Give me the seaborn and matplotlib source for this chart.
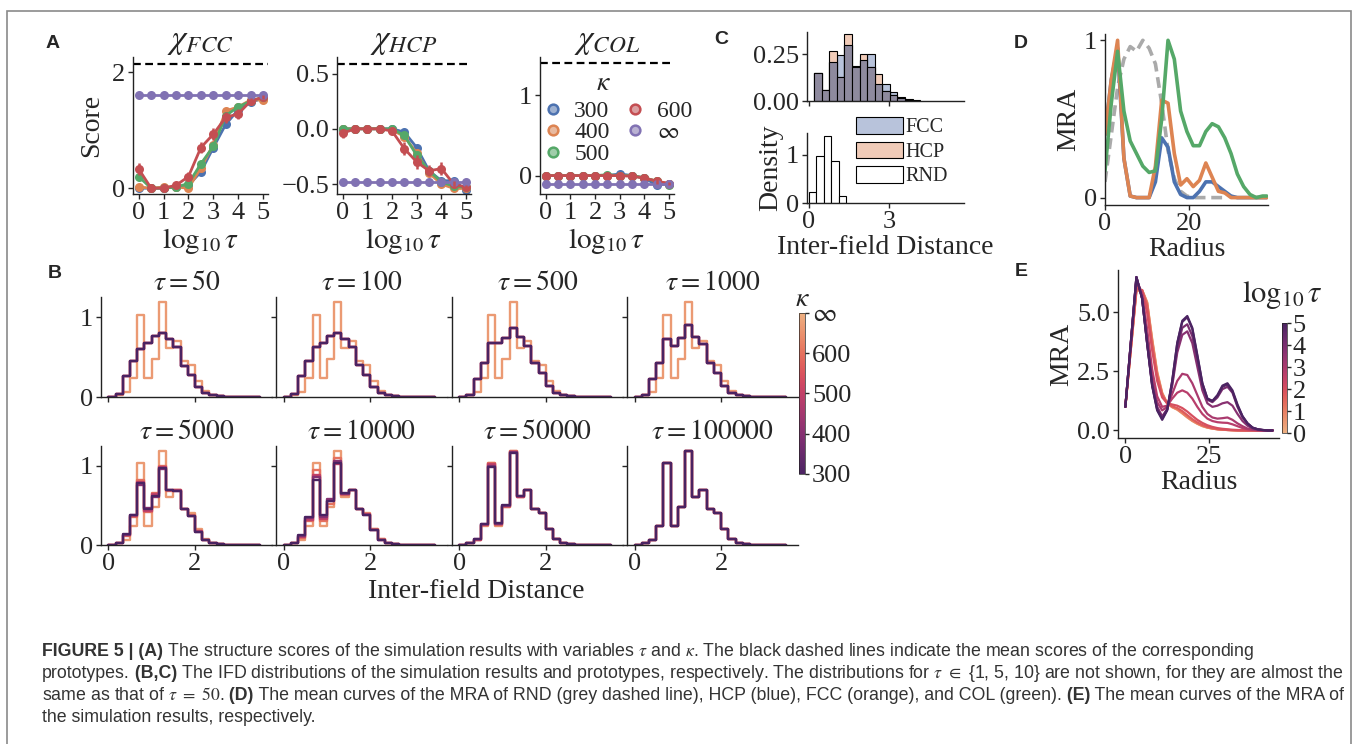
import numpy as np
import pandas as pd
import matplotlib
matplotlib.use("Agg")
import matplotlib.pyplot as plt
from matplotlib.lines import Line2D
from matplotlib.patches import Patch, Rectangle
from matplotlib.colors import Normalize
from matplotlib.cm import ScalarMappable
import seaborn as sns

W, H = 1357, 744

# ---------------- panel A: structure scores vs log10(tau) ----------------
log_tau = [0, 0.5, 1, 1.5, 2, 2.5, 3, 3.5, 4, 4.5, 5]
kappa_names = ["300", "400", "500", "600", r"$\infty$"]

fcc_k300 = [0.0, 0.0, 0.0, 0.02, 0.05, 0.28, 0.70, 1.10, 1.35, 1.48, 1.55]
fcc_k400 = [0.02, 0.0, 0.02, 0.02, 0.0, 0.35, 0.75, 1.33, 1.40, 1.52, 1.52]
fcc_k500 = [0.20, 0.0, 0.0, 0.02, 0.08, 0.42, 0.72, 1.25, 1.40, 1.50, 1.57]
fcc_k600 = [0.33, 0.0, 0.0, 0.05, 0.20, 0.70, 0.93, 1.22, 1.28, 1.50, 1.57]
fcc_kinf = [1.60] * 11
fcc_err600 = [0.10, 0.03, 0.03, 0.03, 0.08, 0.10, 0.10, 0.09, 0.09, 0.05, 0.03]
fcc_proto = 2.14

hcp_k300 = [0.0, 0.0, 0.0, 0.0, 0.0, -0.03, -0.17, -0.38, -0.47, -0.47, -0.55]
hcp_k400 = [0.0, 0.0, 0.0, 0.0, -0.01, -0.07, -0.22, -0.40, -0.50, -0.54, -0.54]
hcp_k500 = [0.0, 0.0, 0.0, 0.0, 0.0, -0.06, -0.24, -0.38, -0.48, -0.52, -0.53]
hcp_k600 = [-0.04, 0.0, 0.0, 0.0, -0.02, -0.18, -0.30, -0.38, -0.36, -0.50, -0.53]
hcp_kinf = [-0.48] * 11
hcp_err600 = [0.04, 0.01, 0.01, 0.01, 0.02, 0.06, 0.06, 0.05, 0.06, 0.03, 0.02]
hcp_proto = 0.59

col_k300 = [0.0, 0.0, 0.0, 0.0, 0.0, 0.0, 0.02, 0.0, -0.03, -0.12, -0.10]
col_k400 = [0.0, 0.0, 0.0, 0.0, 0.0, 0.0, 0.0, 0.0, -0.03, -0.07, -0.10]
col_k500 = [0.0, 0.0, 0.0, 0.0, 0.0, 0.01, 0.0, 0.0, -0.03, -0.07, -0.12]
col_k600 = [0.0, 0.0, 0.0, 0.0, 0.0, 0.0, 0.0, -0.01, -0.03, -0.07, -0.10]
col_kinf = [-0.10] * 11
col_err600 = [0.02, 0.01, 0.01, 0.01, 0.01, 0.01, 0.02, 0.02, 0.02, 0.03, 0.02]
col_proto = 1.40

# ---------------- panel B: IFD step histograms ----------------
ifd_edges = np.linspace(0, 3.5, 22).tolist()
ifd_inf = [0, 0.02, 0.06, 0.24, 1.03, 0.24, 0.48, 1.19, 0.61, 0.70, 0.45, 0.40, 0.20, 0.07, 0.03, 0.01]
ifd_t50 = [0, 0.04, 0.26, 0.45, 0.60, 0.68, 0.76, 0.80, 0.72, 0.62, 0.39, 0.28, 0.13, 0.05, 0.02, 0.01]
ifd_t100 = [0, 0.04, 0.26, 0.45, 0.62, 0.67, 0.76, 0.80, 0.73, 0.62, 0.40, 0.28, 0.13, 0.05, 0.02, 0.01]
ifd_t500 = [0, 0.03, 0.22, 0.42, 0.68, 0.68, 0.74, 0.86, 0.75, 0.64, 0.42, 0.30, 0.14, 0.05, 0.02, 0.01]
ifd_t1000 = [0, 0.03, 0.22, 0.42, 0.72, 0.64, 0.74, 0.90, 0.75, 0.66, 0.42, 0.30, 0.14, 0.05, 0.02, 0.01]
ifd_t5000_k300 = [0, 0.02, 0.14, 0.38, 0.78, 0.45, 0.62, 0.97, 0.70, 0.68, 0.46, 0.36, 0.17, 0.06, 0.02, 0.01]
ifd_t5000_k400 = [0, 0.02, 0.13, 0.38, 0.76, 0.47, 0.60, 0.96, 0.70, 0.68, 0.46, 0.37, 0.17, 0.06, 0.02, 0.01]
ifd_t5000_k500 = [0, 0.02, 0.12, 0.36, 0.80, 0.43, 0.64, 0.99, 0.69, 0.69, 0.46, 0.37, 0.18, 0.06, 0.02, 0.01]
ifd_t5000_k600 = [0, 0.02, 0.11, 0.35, 0.82, 0.42, 0.66, 1.00, 0.68, 0.69, 0.46, 0.38, 0.18, 0.06, 0.02, 0.01]
ifd_t10000_k300 = [0, 0.02, 0.12, 0.35, 0.82, 0.38, 0.56, 1.04, 0.66, 0.70, 0.46, 0.38, 0.19, 0.06, 0.02, 0.01]
ifd_t10000_k400 = [0, 0.02, 0.11, 0.34, 0.86, 0.35, 0.58, 1.06, 0.65, 0.70, 0.46, 0.38, 0.19, 0.06, 0.02, 0.01]
ifd_t10000_k500 = [0, 0.02, 0.10, 0.32, 0.88, 0.33, 0.55, 1.02, 0.64, 0.70, 0.45, 0.39, 0.19, 0.06, 0.02, 0.01]
ifd_t10000_k600 = [0, 0.02, 0.09, 0.30, 0.95, 0.30, 0.52, 1.10, 0.63, 0.70, 0.45, 0.39, 0.20, 0.07, 0.02, 0.01]
ifd_t50000_k300 = [0, 0.02, 0.07, 0.27, 0.98, 0.28, 0.50, 1.16, 0.62, 0.70, 0.45, 0.40, 0.20, 0.07, 0.03, 0.01]
ifd_t50000_k400 = [0, 0.02, 0.07, 0.26, 1.00, 0.27, 0.49, 1.17, 0.62, 0.70, 0.45, 0.40, 0.20, 0.07, 0.03, 0.01]
ifd_t50000_k500 = [0, 0.02, 0.06, 0.25, 1.02, 0.26, 0.49, 1.18, 0.61, 0.70, 0.45, 0.40, 0.20, 0.07, 0.03, 0.01]
ifd_t50000_k600 = [0, 0.02, 0.06, 0.25, 1.03, 0.25, 0.48, 1.19, 0.61, 0.70, 0.45, 0.40, 0.20, 0.07, 0.03, 0.01]
tau_values = [50, 100, 500, 1000, 5000, 10000, 50000, 100000]
kappa_values = [300, 400, 500, 600]

# ---------------- panel C: prototype IFDs ----------------
proto_edges = np.linspace(0.19, 4.15, 15).tolist()
fcc_ifd = [0.15, 0.06, 0.21, 0.245, 0.30, 0.18, 0.22, 0.25, 0.09, 0.09, 0.05, 0.02, 0.01, 0.003]
hcp_ifd = [0.15, 0.06, 0.27, 0.13, 0.36, 0.19, 0.25, 0.18, 0.145, 0.055, 0.03, 0.015, 0.005, 0.0]
rnd_edges = np.linspace(0.0, 1.4, 6).tolist()
rnd_ifd = [0.22, 0.97, 1.38, 0.87, 0.14]

# ---------------- panel D: prototype MRA ----------------
radius_d = [0, 1.5, 3, 4.5, 6, 7.5, 9, 10.5, 12, 13.5, 15, 16.5, 18, 19.5, 21, 22.5,
            24, 25.5, 27, 28.5, 30, 31.5, 33, 34.5, 36, 37.5, 38.5]
mra_rnd = [0.10, 0.40, 0.70, 0.88, 0.96, 0.93, 1.00, 0.95, 0.85, 0.60, 0.30, 0.12, 0.04,
           0.01, 0.0, 0.0, 0.0, 0.0, 0.0, 0.0]
mra_hcp = [0.40, 0.75, 0.95, 0.25, 0.01, 0.0, 0.0, 0.0, 0.10, 0.38, 0.32, 0.10, 0.02, 0.0,
           0.0, 0.04, 0.10, 0.10, 0.07, 0.04, 0.01, 0.0, 0.0, 0.0, 0.0, 0.0, 0.0]
mra_fcc = [0.40, 0.75, 1.00, 0.25, 0.01, 0.0, 0.0, 0.0, 0.20, 0.62, 0.60, 0.28, 0.08, 0.12,
           0.07, 0.11, 0.22, 0.13, 0.04, 0.03, 0.0, 0.0, 0.0, 0.0, 0.0, 0.0, 0.0]
mra_col = [0.17, 0.60, 0.93, 0.55, 0.36, 0.28, 0.20, 0.16, 0.17, 0.50, 1.00, 0.88, 0.55,
           0.42, 0.33, 0.33, 0.42, 0.47, 0.45, 0.38, 0.28, 0.15, 0.07, 0.02, 0.0, 0.01, 0.01]

# ---------------- panel E: simulated MRA ----------------
radius_e = [0, 3.3, 5, 6.5, 8, 9.5, 11, 12.5, 14, 15.5, 17, 18.5, 20, 21.5, 23, 24.5,
            26, 27.5, 29, 30.5, 32, 33.5, 35, 36.5, 38, 39.5, 41, 42.5, 44]
mra_e_log0 = [1.0, 5.9, 5.95, 5.45, 3.9, 2.5, 1.6, 1.15, 0.98, 0.88, 0.72, 0.55, 0.40, 0.28, 0.18, 0.12, 0.08, 0.05, 0.03, 0.02, 0.01]
mra_e_log07 = [1.0, 5.9, 5.95, 5.42, 3.85, 2.45, 1.58, 1.15, 0.99, 0.89, 0.73, 0.56, 0.41, 0.29, 0.19, 0.12, 0.08, 0.05, 0.03, 0.02, 0.01]
mra_e_log1 = [1.0, 5.95, 5.95, 5.4, 3.8, 2.4, 1.55, 1.15, 1.0, 0.9, 0.75, 0.58, 0.42, 0.30, 0.20, 0.13, 0.08, 0.05, 0.03, 0.02, 0.01]
mra_e_log17 = [1.0, 6.0, 5.95, 5.3, 3.6, 2.3, 1.5, 1.15, 1.02, 0.95, 0.82, 0.65, 0.48, 0.34, 0.23, 0.15, 0.10, 0.06, 0.04, 0.02, 0.01]
mra_e_log2 = [1.0, 6.1, 5.9, 5.0, 3.4, 2.1, 1.4, 1.15, 1.10, 1.05, 0.95, 0.80, 0.62, 0.45, 0.32, 0.22, 0.15, 0.10, 0.07, 0.05, 0.03, 0.02, 0.01]
mra_e_log27 = [1.0, 6.4, 5.8, 4.3, 2.6, 1.45, 1.0, 1.05, 1.35, 1.6, 1.7, 1.6, 1.35, 1.0, 0.7, 0.5, 0.4, 0.35, 0.33, 0.32, 0.26, 0.18, 0.10, 0.05, 0.02, 0.01]
mra_e_log3 = [1.0, 6.4, 5.7, 4.0, 2.3, 1.2, 0.85, 1.0, 1.55, 2.1, 2.4, 2.35, 2.0, 1.5, 1.0, 0.7, 0.55, 0.5, 0.52, 0.55, 0.45, 0.30, 0.18, 0.08, 0.03, 0.01]
mra_e_log37 = [1.0, 6.5, 5.6, 3.75, 2.0, 1.0, 0.6, 0.9, 1.9, 3.3, 4.05, 4.2, 3.7, 2.7, 1.7, 1.15, 1.0, 1.05, 1.15, 1.2, 1.05, 0.70, 0.40, 0.20, 0.08, 0.03, 0.01]
mra_e_log4 = [1.0, 6.5, 5.6, 3.7, 1.95, 0.95, 0.55, 0.9, 2.0, 3.5, 4.35, 4.5, 4.0, 2.95, 1.9, 1.3, 1.2, 1.4, 1.75, 1.85, 1.6, 1.0, 0.55, 0.28, 0.11, 0.05, 0.02]
mra_e_log47 = [1.0, 6.5, 5.6, 3.7, 1.9, 0.88, 0.5, 0.88, 2.1, 3.7, 4.6, 4.8, 4.3, 3.15, 2.0, 1.35, 1.25, 1.45, 1.85, 1.95, 1.65, 1.05, 0.6, 0.3, 0.12, 0.05, 0.02]
mra_e_log5 = [1.0, 6.5, 5.6, 3.7, 1.9, 0.85, 0.45, 0.85, 2.1, 3.7, 4.65, 4.85, 4.35, 3.2, 2.0, 1.35, 1.25, 1.5, 1.9, 2.0, 1.7, 1.1, 0.6, 0.3, 0.12, 0.05, 0.02]
log_tau_e = [0, 0.7, 1, 1.7, 2, 2.7, 3, 3.7, 4, 4.7, 5]


def pad(vals, n):
    return list(vals) + [0.0] * (n - len(vals))


def centers_of(edges):
    return [(a + b) / 2 for a, b in zip(edges[:-1], edges[1:])]


# ---------------- style ----------------
sns.set_theme(style="ticks")
plt.rcParams["font.family"] = ["Liberation Serif", "DejaVu Serif"]
plt.rcParams["mathtext.fontset"] = "stix"
plt.rcParams.update({
    "axes.linewidth": 1.0, "axes.edgecolor": "#222222",
    "xtick.major.size": 3.5, "ytick.major.size": 3.5,
    "xtick.major.width": 1.0, "ytick.major.width": 1.0,
    "xtick.labelsize": 19, "ytick.labelsize": 19,
    "axes.labelsize": 20, "axes.titlesize": 20,
    "xtick.major.pad": 2, "ytick.major.pad": 2,
    "axes.labelpad": 2,
})

fig = plt.figure(figsize=(W / 100, H / 100), dpi=100)


def px_axes(x0, y0, x1, y1):
    return fig.add_axes([x0 / W, 1 - y1 / H, (x1 - x0) / W, (y1 - y0) / H])


deep = sns.color_palette("deep")
kappa_colors = [deep[0], deep[1], deep[2], deep[3], deep[4]]

# ---------------- A ----------------
a_specs = [
    ((133, 57, 268, 194), [fcc_k300, fcc_k400, fcc_k500, fcc_k600, fcc_kinf], fcc_err600, fcc_proto,
     r"$\chi_{FCC}$", (-0.1, 2.26), [0, 2]),
    ((337, 57, 471, 194), [hcp_k300, hcp_k400, hcp_k500, hcp_k600, hcp_kinf], hcp_err600, hcp_proto,
     r"$\chi_{HCP}$", (-0.59, 0.65), [-0.5, 0.0, 0.5]),
    ((540, 57, 674, 194), [col_k300, col_k400, col_k500, col_k600, col_kinf], col_err600, col_proto,
     r"$\chi_{COL}$", (-0.23, 1.48), [0, 1]),
]
a_axes = []
for box, series, err600, proto, title, ylim, yt in a_specs:
    ax = px_axes(*box)
    ax.axhline(proto, color="black", lw=1.6, ls=(0, (3.5, 2)))
    for vals, c in zip(series, kappa_colors):
        sns.lineplot(x=log_tau, y=vals, color=c, lw=2.0, marker="o", markersize=6.5,
                     markeredgewidth=0, ax=ax)
    ax.errorbar(log_tau, series[3], yerr=err600, fmt="none", ecolor=kappa_colors[3], elinewidth=1.8)
    ax.set_xlim(-0.23, 5.2)
    ax.set_ylim(*ylim)
    ax.set_xticks([0, 1, 2, 3, 4, 5])
    ax.set_yticks(yt)
    ax.set_title(title, pad=3, fontsize=24)
    ax.set_xlabel(r"$\log_{10}\tau$", fontsize=21)
    sns.despine(ax=ax)
    a_axes.append(ax)
a_axes[0].set_ylabel("Score", labelpad=6)

leg_handles = [Line2D([], [], ls="", marker="o", markersize=7, markerfacecolor=sns.light_palette(c, 3)[1],
                      markeredgecolor=c, markeredgewidth=1.8) for c in kappa_colors]
a_axes[2].legend(leg_handles, kappa_names, ncol=2, loc="upper left",
                 bbox_to_anchor=(-0.08, 0.77), frameon=False, fontsize=17,
                 handletextpad=0.4, columnspacing=0.6, labelspacing=0.0, borderpad=0,
                 handlelength=1.0)
fig.text(603 / W, 1 - 83 / H, r"$\kappa$", ha="center", va="center", fontsize=20)

# ---------------- B ----------------
flare_r = sns.color_palette("flare_r", as_cmap=True)
b_norm = Normalize(300, 700)
inf_color = flare_r(b_norm(665))
ifd_by_tau = {
    50: [ifd_t50] * 4,
    100: [ifd_t100] * 4,
    500: [ifd_t500] * 4,
    1000: [ifd_t1000] * 4,
    5000: [ifd_t5000_k300, ifd_t5000_k400, ifd_t5000_k500, ifd_t5000_k600],
    10000: [ifd_t10000_k300, ifd_t10000_k400, ifd_t10000_k500, ifd_t10000_k600],
    50000: [ifd_t50000_k300, ifd_t50000_k400, ifd_t50000_k500, ifd_t50000_k600],
    100000: [ifd_inf] * 4,
}
n_bins = len(ifd_edges) - 1
centers_b = centers_of(ifd_edges)
col_x0 = [101, 276.4, 451.8, 627.2]
row_y = [(297, 397), (446, 545)]
for i, tau in enumerate(tau_values):
    r, c = divmod(i, 4)
    ax = px_axes(col_x0[c], row_y[r][0], col_x0[c] + 171, row_y[r][1])
    sns.histplot(x=centers_b, weights=pad(ifd_inf, n_bins), bins=ifd_edges, element="step",
                 fill=False, color=inf_color, lw=1.7, ax=ax)
    for k, vals in reversed(list(zip(kappa_values, ifd_by_tau[tau]))):
        sns.histplot(x=centers_b, weights=pad(vals, n_bins), bins=ifd_edges, element="step",
                     fill=False, color=flare_r(b_norm(k)), lw=1.7, ax=ax)
    ax.set_xlim(-0.17, 3.78)
    ax.set_ylim(0, 1.25)
    ax.set_xticks([0, 2])
    ax.set_yticks([0, 1])
    ax.set_ylabel("")
    ax.set_title(r"$\tau = %d$" % tau, pad=5)
    if r == 0:
        ax.set_xticklabels([])
    if c > 0:
        ax.set_yticklabels([])
    sns.despine(ax=ax)
fig.text(476 / W, 1 - 592 / H, "Inter-field Distance", ha="center", va="center", fontsize=20)

cax_b = px_axes(799, 313, 805, 474)
cb_b = fig.colorbar(ScalarMappable(norm=b_norm, cmap=flare_r), cax=cax_b)
cb_b.set_ticks([300, 400, 500, 600, 700])
cb_b.set_ticklabels(["300", "400", "500", "600", r"$\infty$"])
cb_b.outline.set_linewidth(0.5)
cax_b.tick_params(labelsize=19, length=3)
fig.text(802 / W, 1 - 300 / H, r"$\kappa$", ha="center", va="center", fontsize=20)

# ---------------- C ----------------
centers_p = centers_of(proto_edges)
overlap_ifd = np.minimum(fcc_ifd, hcp_ifd).tolist()
ax_c1 = px_axes(807, 32, 964, 101)
sns.histplot(x=centers_p, weights=fcc_ifd, bins=proto_edges, color="#b8c3db", alpha=1,
             edgecolor="black", linewidth=0.8, ax=ax_c1)
sns.histplot(x=centers_p, weights=hcp_ifd, bins=proto_edges, color="#f0cbb8", alpha=1,
             edgecolor="black", linewidth=0.8, ax=ax_c1)
sns.histplot(x=centers_p, weights=overlap_ifd, bins=proto_edges, color="#8e8a9e", alpha=1,
             edgecolor="black", linewidth=0.8, ax=ax_c1)
ax_c1.set_xlim(-0.07, 5.78)
ax_c1.set_ylim(0, 0.37)
ax_c1.set_xticks([0, 3])
ax_c1.set_xticklabels([])
ax_c1.set_yticks([0, 0.25])
ax_c1.set_yticklabels(["0.00", "0.25"])
ax_c1.set_ylabel("")
sns.despine(ax=ax_c1)

ax_c2 = px_axes(807, 133, 964, 203)
centers_r = centers_of(rnd_edges)
sns.histplot(x=centers_r, weights=rnd_ifd, bins=rnd_edges, color="white", alpha=1,
             edgecolor="black", linewidth=0.8, ax=ax_c2)
ax_c2.set_xlim(-0.07, 5.78)
ax_c2.set_ylim(0, 1.45)
ax_c2.set_xticks([0, 3])
ax_c2.set_yticks([0, 1])
ax_c2.set_ylabel("Density")
ax_c2.set_xlabel("Inter-field Distance")
sns.despine(ax=ax_c2)
c_handles = [Patch(facecolor=fc, edgecolor="black", linewidth=0.8) for fc in ["#b8c3db", "#f0cbb8", "white"]]
ax_c2.legend(c_handles, ["FCC", "HCP", "RND"], loc="upper left", bbox_to_anchor=(0.25, 1.37),
             frameon=False, fontsize=14.5, handlelength=2.3, handleheight=0.9,
             handletextpad=0.15, labelspacing=0.2, borderpad=0)

# ---------------- D ----------------
ax_d = px_axes(1105, 34, 1268, 205)
sns.lineplot(x=radius_d[:len(mra_rnd)], y=mra_rnd, color="#aaaaaa", lw=2.6, ls=(0, (3, 1.6)), ax=ax_d)
sns.lineplot(x=radius_d, y=mra_hcp, color=deep[0], lw=2.6, ax=ax_d)
sns.lineplot(x=radius_d, y=mra_fcc, color=deep[1], lw=2.6, ax=ax_d)
sns.lineplot(x=radius_d, y=mra_col, color=deep[2], lw=2.6, ax=ax_d)
ax_d.set_xlim(0, 38.8)
ax_d.set_ylim(-0.047, 1.04)
ax_d.set_xticks([0, 20])
ax_d.set_yticks([0, 1])
ax_d.set_xlabel("Radius")
ax_d.set_ylabel("MRA")
sns.despine(ax=ax_d)

# ---------------- E ----------------
e_lists = [mra_e_log0, mra_e_log07, mra_e_log1, mra_e_log17, mra_e_log2, mra_e_log27,
           mra_e_log3, mra_e_log37, mra_e_log4, mra_e_log47, mra_e_log5]
e_df = pd.concat([
    pd.DataFrame({"radius": radius_e, "mra": pad(v, len(radius_e)), "log_tau": lt})
    for lt, v in zip(log_tau_e, e_lists)
], ignore_index=True)
ax_e = px_axes(1118, 270, 1279, 438)
flare = sns.color_palette("flare", as_cmap=True)
sns.lineplot(data=e_df, x="radius", y="mra", hue="log_tau", palette=flare, hue_norm=(0, 5),
             lw=1.6, legend=False, ax=ax_e)
ax_e.set_xlim(-2.2, 45.9)
ax_e.set_ylim(-0.32, 6.8)
ax_e.set_xticks([0, 25])
ax_e.set_yticks([0, 2.5, 5])
ax_e.set_yticklabels(["0.0", "2.5", "5.0"])
ax_e.set_xlabel("Radius")
ax_e.set_ylabel("MRA")
sns.despine(ax=ax_e)
cax_e = px_axes(1282, 323, 1287, 433)
cb_e = fig.colorbar(ScalarMappable(norm=Normalize(0, 5), cmap=flare), cax=cax_e)
cb_e.set_ticks([0, 1, 2, 3, 4, 5])
cb_e.outline.set_linewidth(0.5)
cax_e.tick_params(labelsize=19, length=3, pad=1)
fig.text(1282 / W, 1 - 295 / H, r"$\log_{10}\tau$", ha="center", va="center", fontsize=22)

# ---------------- panel letters ----------------
for letter, (lx, ly) in {"A": (53, 44), "B": (55, 273), "C": (721, 40), "D": (1021, 44),
                         "E": (1021, 272)}.items():
    fig.text(lx / W, 1 - ly / H, letter, ha="center", va="center", fontsize=14,
             fontweight="bold", family=["Liberation Sans", "DejaVu Sans"])

# ---------------- caption ----------------
cap_family = ["Liberation Sans", "DejaVu Sans"]
renderer = fig.canvas.get_renderer()
cap_lines = [
    (652, [("FIGURE 5 | (A)", True),
           (r" The structure scores of the simulation results with variables $\tau$ and $\kappa$."
            " The black dashed lines indicate the mean scores of the corresponding", False)]),
    (674, [("prototypes.", False), (" (B,C)", True),
           (r" The IFD distributions of the simulation results and prototypes, respectively."
            r" The distributions for $\tau$ $\in$ {1, 5, 10} are not shown, for they are almost the", False)]),
    (696, [(r"same as that of $\tau\ =\ 50$.", False), (" (D)", True),
           (" The mean curves of the MRA of RND (grey dashed line), HCP (blue), FCC (orange), and COL (green).", False),
           (" (E)", True), (" The mean curves of the MRA of", False)]),
    (718, [("the simulation results, respectively.", False)]),
]
probe = fig.text(0, 0, "".join(t for t, _ in cap_lines[1][1]), fontsize=12, family=cap_family)
cap_size = 12 * (1298 / probe.get_window_extent(renderer).width)
probe.remove()
for y_px, parts in cap_lines:
    x = 42 / W
    for txt, bold in parts:
        t = fig.text(x, 1 - y_px / H, txt, fontsize=cap_size, family=cap_family,
                     fontweight="bold" if bold else "normal", color="#333333", va="center")
        x += t.get_window_extent(renderer).width / W

fig.patches.append(Rectangle((7 / W, -0.02), (1351 - 7) / W, 1 - 11 / H + 0.02,
                             transform=fig.transFigure, fill=False, ec="#8a8a8a", lw=1.2))

fig.savefig("out.png", dpi=100)
